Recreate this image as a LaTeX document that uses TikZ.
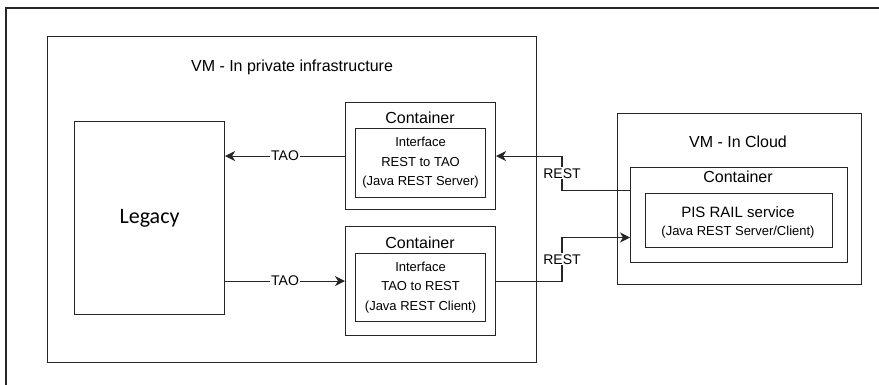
\documentclass[tikz,border=0pt]{standalone}
\usepackage{fontspec}
\setmainfont{Liberation Sans}
\newfontfamily\legacyfont{Carlito}
\usetikzlibrary{arrows.meta}

\begin{document}
\begin{tikzpicture}[x=1pt,y=-1pt,
    box/.style={draw=black!85,line width=1.1pt,inner sep=0pt,anchor=north west},
    lbl/.style={fill=white,inner sep=1pt,font=\fontsize{14}{16}\selectfont},
    arr/.style={draw=black!85,line width=1.1pt,-{Stealth[length=10pt,width=10pt,inset=3pt]}},
    small/.style={align=center,font=\fontsize{13}{19.5}\selectfont}]
  \useasboundingbox (0,0) rectangle (879,384);
  % outer frame, cut by the page
  \draw[black!85,line width=1.1pt] (6,400) |- (900,8);

  % private infrastructure
  \node[box,minimum width=489pt,minimum height=326pt] (priv) at (47,36) {};
  \node[font=\fontsize{16}{18}\selectfont] (privtitle) at (292,67) {VM - In private infrastructure};
  \node[box,minimum width=150pt,minimum height=193pt] (legacy) at (74,121) {};
  \node[font=\legacyfont\fontsize{22}{24}\selectfont] (legacytxt) at (legacy.center) {Legacy};

  \node[box,minimum width=150pt,minimum height=107pt] (cont1) at (345,102) {};
  \node[font=\fontsize{16}{18}\selectfont] (cont1title) at (420,118) {Container};
  \node[box,minimum width=130pt,minimum height=69pt] (iface1) at (355,128) {};
  \node[small] (iface1txt) at (iface1.center) {Interface\\REST to TAO\\(Java REST Server)};

  \node[box,minimum width=150pt,minimum height=109pt] (cont2) at (345,226) {};
  \node[font=\fontsize{16}{18}\selectfont] (cont2title) at (420,243) {Container};
  \node[box,minimum width=130pt,minimum height=68pt] (iface2) at (355,253) {};
  \node[small] (iface2txt) at (iface2.center) {Interface\\TAO to REST\\(Java REST Client)};

  % cloud
  \node[box,minimum width=244pt,minimum height=171pt] (cloud) at (617,113) {};
  \node[font=\fontsize{16}{18}\selectfont] (cloudtitle) at (738,142) {VM - In Cloud};
  \node[box,minimum width=217pt,minimum height=95pt] (cont3) at (630,167) {};
  \node[font=\fontsize{16}{18}\selectfont] (cont3title) at (738,177) {Container};
  \node[box,minimum width=187pt,minimum height=54pt] (pis) at (645,193) {};
  \node[font=\fontsize{15}{17}\selectfont] (pistxt) at (738,212) {PIS RAIL service};
  \node[font=\fontsize{13}{15}\selectfont] (pissub) at (738,232) {(Java REST Server/Client)};

  % links
  \coordinate (bend) at (562,0);
  \coordinate (cout) at (630,190.5);
  \coordinate (cin) at (630,237.5);
  \draw[arr] (cont1.west) -- node[lbl] {TAO} (cont1.west -| legacy.east);
  \draw[arr] (cont2.west -| legacy.east) -- node[lbl] {TAO} (cont2.west);
  \draw[arr] (cout) -| node[lbl,pos=0.75] {REST} (bend |- cont1.east) -- (cont1.east);
  \draw[arr] (cont2.east) -| node[lbl,pos=0.75] {REST} (bend |- cin) -- (cin);
\end{tikzpicture}
\end{document}
